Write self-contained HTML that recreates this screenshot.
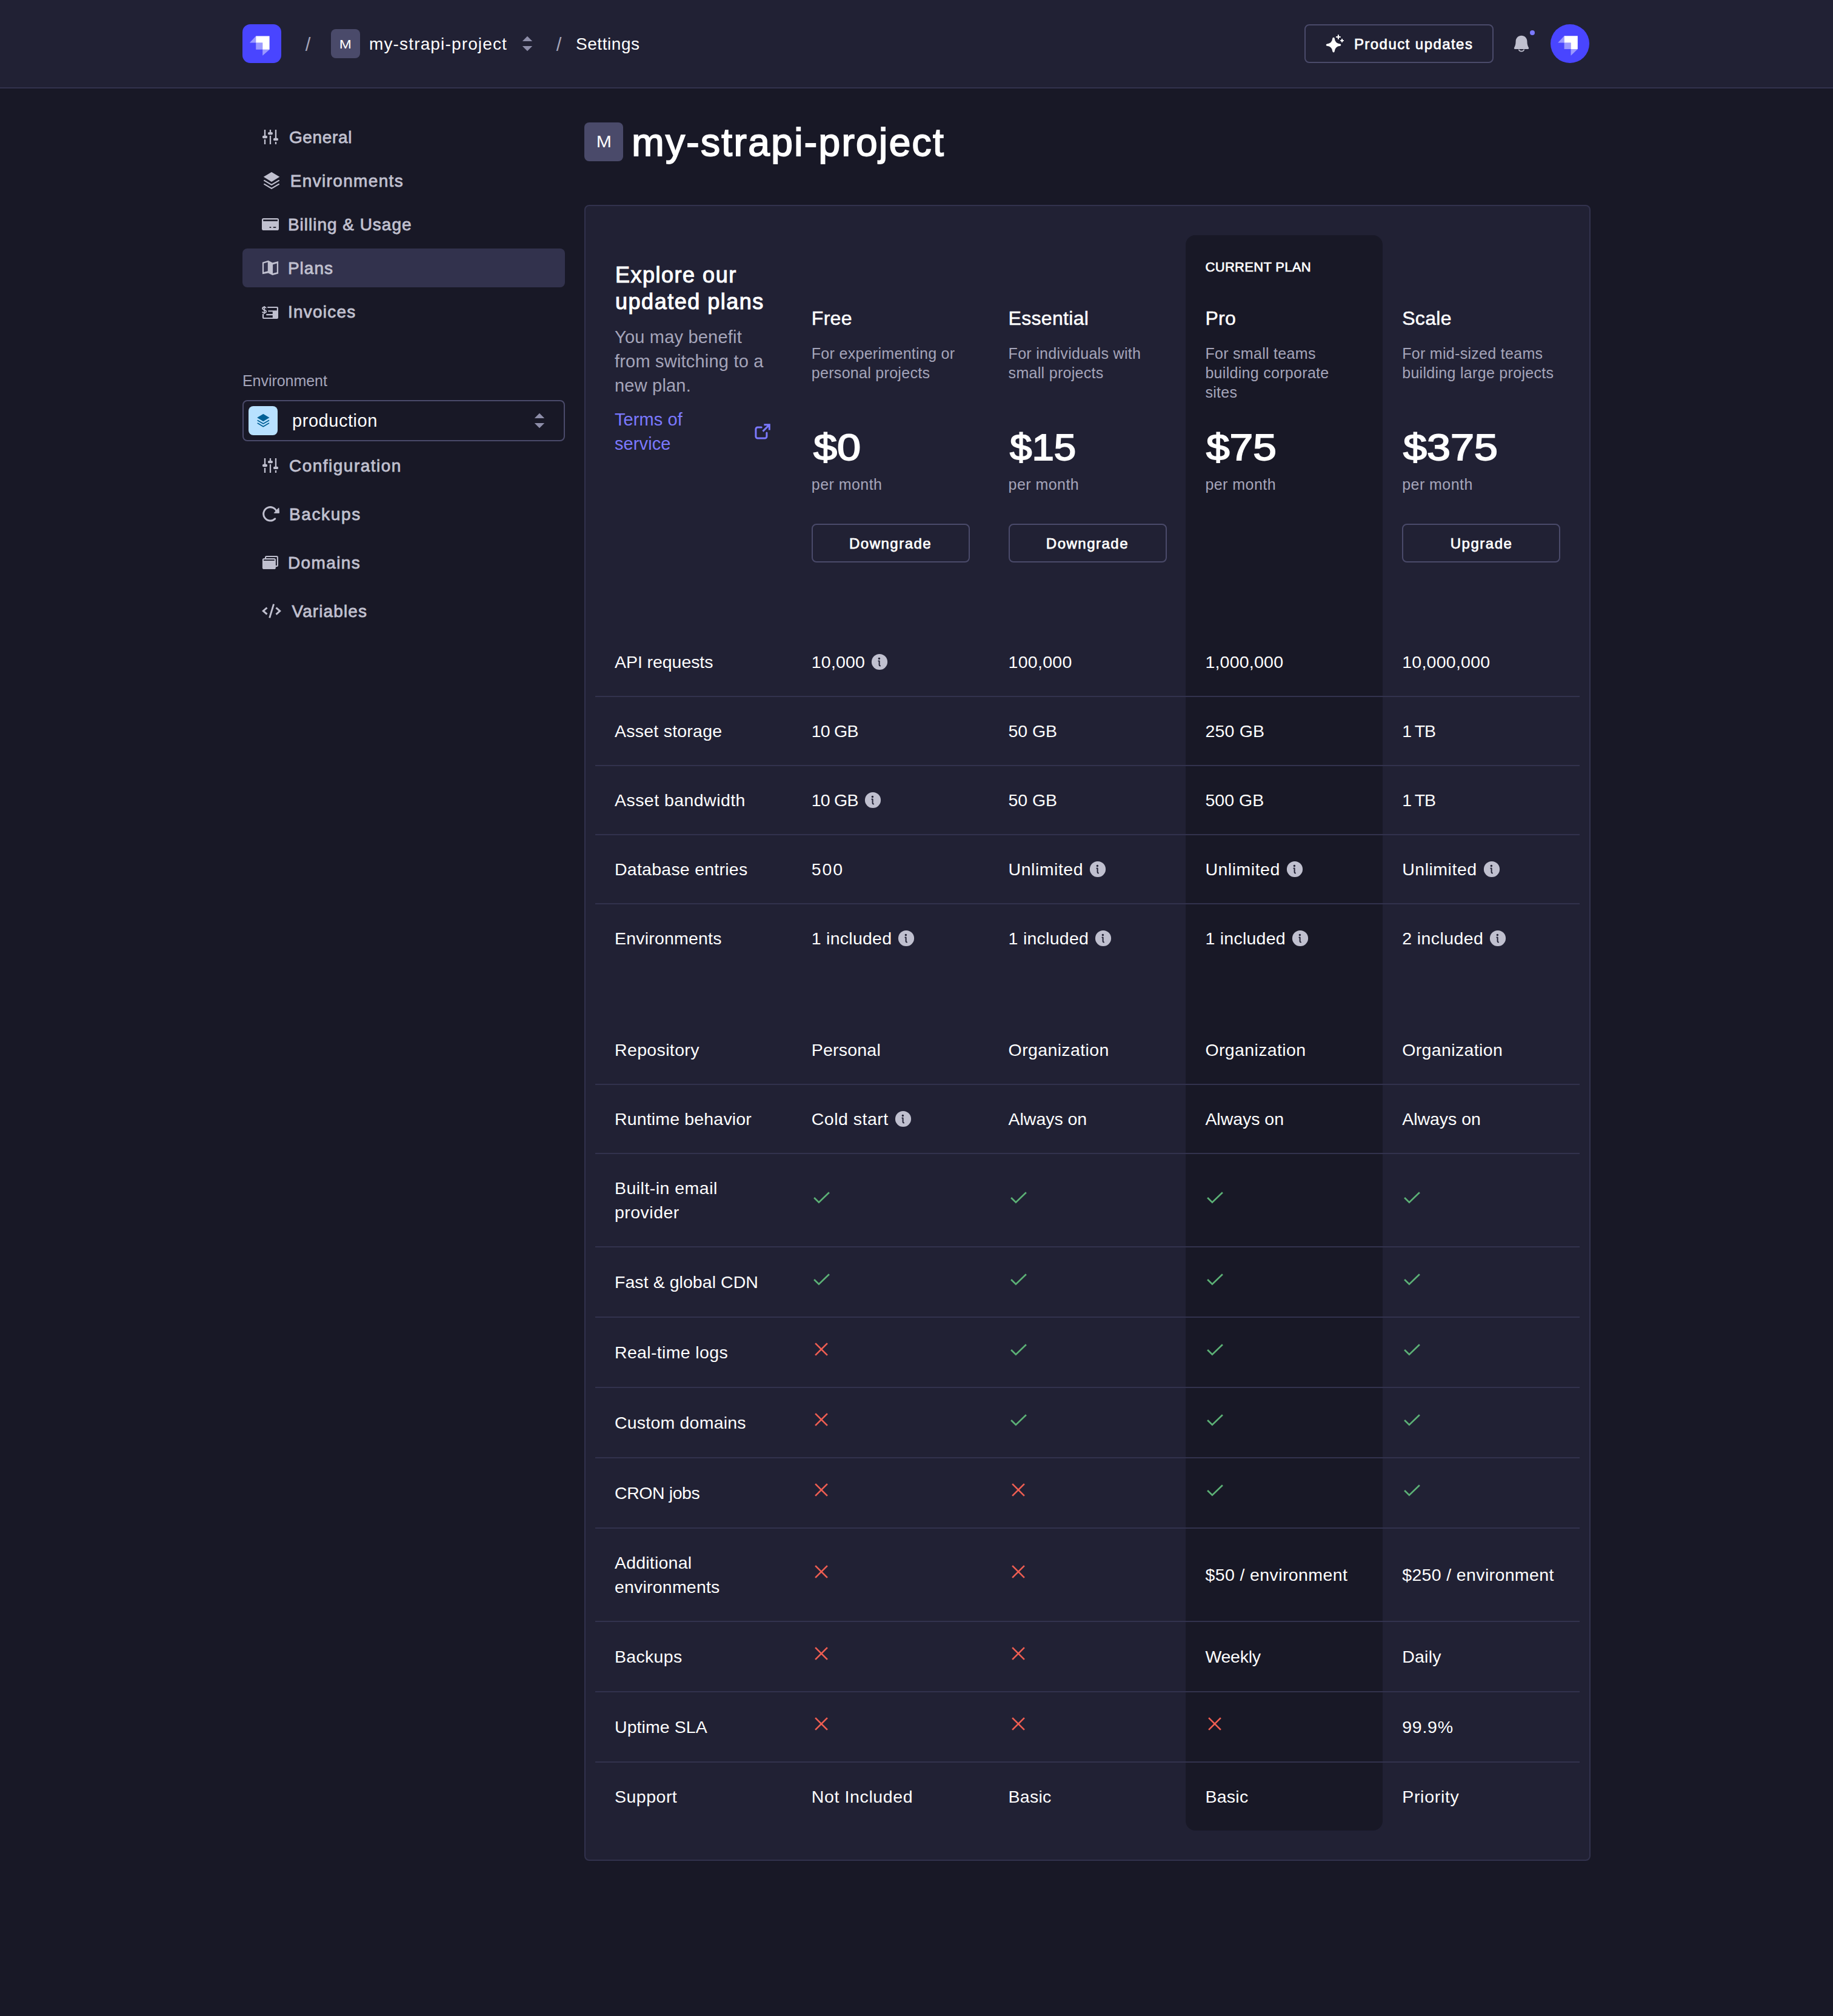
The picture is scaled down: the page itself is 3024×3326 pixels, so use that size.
<!DOCTYPE html>
<html lang="en"><head><meta charset="utf-8"><title>Plans - my-strapi-project</title>
<style>
*{box-sizing:border-box;margin:0;padding:0}
html,body{width:3024px;height:3326px}
body{background:#181826;font-family:"Liberation Sans",sans-serif;color:#fff;position:relative;overflow:hidden;-webkit-font-smoothing:antialiased}
#hdr{position:absolute;left:0;top:0;width:3024px;height:146px;background:#212134;border-bottom:2px solid #32324d}
#hdr>*{position:absolute}
.logo{left:400px;top:40px;width:64px;height:64px;border-radius:13px;background:#4945ff;overflow:hidden}
.sl{font-size:31px;line-height:40px;top:54px;color:#a5a5ba;width:20px;text-align:center}
.mb{background:#4a4a6a;color:#fff;text-align:center}
.ht{font-size:28px;line-height:40px;top:53.4px;white-space:nowrap}
.pu{left:2152px;top:40px;width:312px;height:64px;border:2px solid #4a4a6a;border-radius:8px}
.pu span{position:absolute;left:81px;top:11px;font-size:24px;line-height:40px;-webkit-text-stroke:.75px #fff;white-space:nowrap}
.av{left:2558px;top:40px;width:64px;height:64px;border-radius:50%;background:#4945ff;overflow:hidden}
.it{position:absolute;left:400px;width:532px;height:64px;border-radius:8px;color:#c0c0cf}
.it.act{background:#32324d}
.it .ic{position:absolute}
.it span{position:absolute;top:13px;font-size:28px;line-height:40px;-webkit-text-stroke:.8px #c0c0cf;white-space:nowrap}
.lbl{position:absolute;left:400px;top:612px;font-size:25px;line-height:32px;color:#a5a5ba;letter-spacing:-.05px}
.sel{position:absolute;left:400px;top:660px;width:532px;height:68px;border:2px solid #4a4a6a;border-radius:8px}
.sel .bx{position:absolute;left:8px;top:8px;width:48px;height:48px;border-radius:8px;background:#b8e1ff}
.sel .tx{position:absolute;left:80px;top:12px;font-size:29px;line-height:40px;letter-spacing:.55px}
.sel .cv{position:absolute;left:479px;top:19px}
#title{position:absolute;left:964px;top:194px;height:80px}
#title .mb{position:absolute;left:0;top:8px;width:64px;height:64px;border-radius:8px;font-size:27px;line-height:65px}
#title h1{position:absolute;left:77.5px;top:1px;font-size:64px;line-height:80px;font-weight:400;-webkit-text-stroke:1.9px #fff;white-space:nowrap}
#card{position:absolute;left:964px;top:338px;width:1660px;height:2732px;border:2px solid #32324d;border-radius:8px;background:#212134}
#tbl{position:absolute;left:16px;top:48px;width:1624px;height:2632px}
#hl{position:absolute;left:974.4px;top:0;width:324.8px;height:2632px;background:#181826;border-radius:16px}
#ph{position:relative;height:648px}
#ph>div{position:absolute;top:0;height:648px;width:324.8px}
.r{position:relative;display:flex;border-bottom:2px solid #32324d}
.r.nb{border-bottom:0}
.c{width:324.8px;padding-left:32px;display:flex;align-items:center;font-size:28.5px;line-height:40px;white-space:nowrap}
.info{margin-left:8px;flex:none}
.ck{flex:none;margin-bottom:10px}
.ex h2{position:absolute;left:32px;top:43.5px;font-size:36px;line-height:44px;font-weight:400;-webkit-text-stroke:1.1px #fff;white-space:nowrap}
.ex p{position:absolute;left:32px;top:148px;font-size:29px;line-height:40px;color:#a5a5ba;white-space:nowrap;letter-spacing:.2px}
.ex a{position:absolute;left:32px;top:284px;font-size:29px;line-height:40px;color:#7b79ff;white-space:nowrap;letter-spacing:.1px;text-decoration:none}
.ex .ext{position:absolute;left:260px;top:308px}
.pc>div{position:absolute;left:32px;white-space:nowrap}
.cur{top:37px;font-size:22px;line-height:32px;-webkit-text-stroke:.7px #fff}
.pn{top:112.6px;font-size:32px;line-height:48px;-webkit-text-stroke:.5px #fff;letter-spacing:.3px}
.pd{top:178.5px;font-size:25px;line-height:32px;color:#a5a5ba;letter-spacing:.3px}
.pp{top:309.5px;font-size:62px;line-height:80px;-webkit-text-stroke:1.9px #fff}
.pm{top:394.8px;font-size:25px;line-height:32px;color:#a5a5ba;letter-spacing:.45px}
.pb{top:476px;width:261px;height:64px;border:2px solid #4a4a6a;border-radius:8px;font-size:24px;line-height:62px;-webkit-text-stroke:.75px #fff;text-align:center}
</style></head>
<body>
<div id="hdr">
  <div class="logo"><svg width="64" height="64" viewBox="0 0 64 64"><path d="M22.2 19.4H44.6V41.8H33.2V30.6H22.2Z" fill="#fff"/><path d="M22.2 19.4V30.6H11.9ZM22.2 30.6H33.2V41.8H22.2ZM33.2 41.8H44.6L33.2 51.8Z" fill="#fff" fill-opacity=".45"/></svg></div>
  <div class="sl" style="left:498px">/</div>
  <div class="mb" style="left:546px;top:48px;width:48px;height:48px;border-radius:8px;font-size:21px;line-height:49px"><span style="display:inline-block;transform:scaleX(1.15)">M</span></div>
  <div class="ht" style="left:609px;letter-spacing:1.15px">my-strapi-project</div>
  <div style="left:861px;top:59px"><svg width="18" height="26" viewBox="0 0 18 26"><path d="M9 0.8L17.2 9H0.8ZM0.8 17H17.2L9 25.2Z" fill="#8e8ea9"/></svg></div>
  <div class="sl" style="left:912px">/</div>
  <div class="ht" style="left:950px;letter-spacing:.55px">Settings</div>
  <div class="pu"><svg style="position:absolute;left:30px;top:12px" width="36" height="36" viewBox="0 0 36 36"><g fill="#fff" stroke="#fff" stroke-linejoin="round"><path stroke-width="3.4" d="M16 9.5Q16.9 19.2 26.6 20.1Q16.9 21 16 30.7Q15.1 21 5.4 20.1Q15.1 19.2 16 9.5Z"/></g><path d="M23.9 3.2V10.8M20.1 7H27.7M30 10.1V15.7M27.2 12.9H32.8" stroke="#fff" stroke-width="2" fill="none"/></svg><span style="margin-left:-1.08px;letter-spacing:1.442px">Product updates</span></div>
  <svg style="left:2494px;top:56px" width="32" height="32" viewBox="0 0 32 32"><path d="M16 2.8C10.6 2.8 6.6 7 6.6 12.3C6.6 17.5 5.4 20.3 4 22.7C3.4 23.8 4.2 25 5.4 25H26.6C27.8 25 28.6 23.8 28 22.7C26.6 20.3 25.4 17.5 25.4 12.3C25.4 7 21.4 2.8 16 2.8Z" fill="#c0c0cf"/><path d="M11.6 25.6A4.5 3.8 0 0 0 20.4 25.6" fill="none" stroke="#c0c0cf" stroke-width="1.8"/></svg>
  <div style="left:2524px;top:50px;width:8px;height:8px;border-radius:50%;background:#7b79ff"></div>
  <div class="av"><svg width="64" height="64" viewBox="0 0 64 64"><path d="M22.6 19.3H44.8V41.1H33.5V30.4H22.6Z" fill="#fff"/><path d="M22.6 19.3V30.4H12.1ZM22.6 30.4H33.5V41.1H22.6ZM33.5 41.1H44.8L33.5 51.8Z" fill="#fff" fill-opacity=".45"/></svg></div>
</div>

<div class="it" style="top:194px"><svg class="ic" style="left:32px;top:18px" width="28" height="28" viewBox="0 0 28 28"><g stroke="#c0c0cf" stroke-width="2.3" fill="none"><path d="M5 2V12.5M5 18V26M14 2V6.5M14 12.1V26M23 2V16.3M23 22.1V26"/></g><g fill="#c0c0cf"><rect x="0.9" y="11.8" width="8.2" height="4.4" rx="2.2"/><rect x="9.9" y="5.9" width="8.2" height="4.4" rx="2.2"/><rect x="18.9" y="15.7" width="8.2" height="4.4" rx="2.2"/></g></svg><span style="left:76px;margin-left:0.90px;letter-spacing:0.660px">General</span></div>
<div class="it" style="top:266px"><svg class="ic" style="left:32px;top:18px" width="32" height="28" viewBox="0 0 32 28"><path d="M16 -0.1L29.3 7.8L16 15.9L2.8 7.8Z" fill="#c0c0cf"/><path d="M4.2 13.9L16 20.9L27.9 13.9M4.2 19.9L16 26.9L27.9 19.9" fill="none" stroke="#c0c0cf" stroke-width="2.2" stroke-linecap="round" stroke-linejoin="round"/></svg><span style="left:80px;margin-left:-1.26px;letter-spacing:1.339px">Environments</span></div>
<div class="it" style="top:338px"><svg class="ic" style="left:32px;top:18px" width="28" height="28" viewBox="0 0 28 28"><rect x="0" y="3.9" width="28" height="20.2" rx="2.8" fill="#c0c0cf"/><rect x="2.2" y="6.3" width="23.8" height="2.6" fill="#181826"/><rect x="12.4" y="18.2" width="3.2" height="1.7" rx=".8" fill="#181826"/><rect x="18.5" y="18.2" width="5.1" height="1.7" rx=".8" fill="#181826"/></svg><span style="left:76px;margin-left:-1.08px;letter-spacing:0.979px">Billing &amp; Usage</span></div>
<div class="it act" style="top:410px"><svg class="ic" style="left:32px;top:18px" width="28" height="28" viewBox="0 0 28 28"><path transform="translate(0,-2)" fill="#c0c0cf" fill-rule="evenodd" d="M0.9 6.7L10.6 3.7L17.6 7.4L27.1 4.9V25.4L17.5 28.1L10.5 24.4L0.9 26.2Z M3.1 8.6L9.8 6.5V21.2L3.1 23Z M18.1 10.4L24.8 8.6V23.3L18.1 25Z"/></svg><span style="left:76px;margin-left:-1.08px;letter-spacing:0.996px">Plans</span></div>
<div class="it" style="top:482px"><svg class="ic" style="left:32px;top:18px" width="28" height="28" viewBox="0 0 28 28"><g fill="#c0c0cf"><path d="M9.3 5.9H25a2 2 0 0 1 2 2V24a2 2 0 0 1-2 2H2.9a2 2 0 0 1-2-2V18H3.1V23.9H17.8V20.2H7.3V18H17.8V14.3H10.3V12.15H24.8V8.06H9.3Z"/></g><path d="M7 8.4C6.6 7.1 5.4 6.6 4 6.6C2.3 6.6 1 7.5 1 9C1 12 7.1 10.6 7.1 13.8C7.1 15.4 5.7 16.2 4 16.2C2.4 16.2 1.1 15.6 0.7 14.2M4 5V17.9" fill="none" stroke="#c0c0cf" stroke-width="1.8"/></svg><span style="left:76px;margin-left:-1.08px;letter-spacing:1.238px">Invoices</span></div>
<div class="lbl">Environment</div>
<div class="sel"><div class="bx"><svg style="position:absolute;left:11.7px;top:13.2px" width="24.6" height="21.5" viewBox="0 0 32 28"><path d="M16 -0.1L29.3 7.8L16 15.9L2.8 7.8Z" fill="#006096"/><path d="M4.2 13.9L16 20.9L27.9 13.9M4.2 19.9L16 26.9L27.9 19.9" fill="none" stroke="#006096" stroke-width="2.2" stroke-linecap="round" stroke-linejoin="round"/></svg></div><div class="tx">production</div><div class="cv"><svg width="18" height="26" viewBox="0 0 18 26"><path d="M9 0.8L17.2 9H0.8ZM0.8 17H17.2L9 25.2Z" fill="#8e8ea9"/></svg></div></div>
<div class="it" style="top:736px"><svg class="ic" style="left:32px;top:18px" width="28" height="28" viewBox="0 0 28 28"><g stroke="#c0c0cf" stroke-width="2.3" fill="none"><path d="M5 2V12.5M5 18V26M14 2V6.5M14 12.1V26M23 2V16.3M23 22.1V26"/></g><g fill="#c0c0cf"><rect x="0.9" y="11.8" width="8.2" height="4.4" rx="2.2"/><rect x="9.9" y="5.9" width="8.2" height="4.4" rx="2.2"/><rect x="18.9" y="15.7" width="8.2" height="4.4" rx="2.2"/></g></svg><span style="left:76px;margin-left:1.08px;letter-spacing:1.470px">Configuration</span></div>
<div class="it" style="top:816px"><svg class="ic" style="left:32px;top:18px" width="30" height="28" viewBox="0 0 30 28"><path d="M24.4 10A11.2 11.2 0 1 0 21.7 21.9" fill="none" stroke="#c0c0cf" stroke-width="3" stroke-linecap="round"/><path d="M27.9 3.9L28.5 12.3H20.3Z" fill="#c0c0cf" stroke="#c0c0cf" stroke-width="1" stroke-linejoin="round"/></svg><span style="left:78px;margin-left:-1.08px;letter-spacing:1.650px">Backups</span></div>
<div class="it" style="top:896px"><svg class="ic" style="left:32px;top:18px" width="28" height="28" viewBox="0 0 28 28"><rect x="6.05" y="4.05" width="19.85" height="16.05" rx="1.6" fill="none" stroke="#c0c0cf" stroke-width="2.1"/><rect x="0.9" y="6.9" width="22" height="18.2" rx="2.7" fill="#c0c0cf"/><rect x="3.05" y="9.2" width="17.7" height="1.8" fill="#181826"/></svg><span style="left:76px;margin-left:-1.08px;letter-spacing:1.380px">Domains</span></div>
<div class="it" style="top:976px"><svg class="ic" style="left:32px;top:18px" width="32" height="28" viewBox="0 0 32 28"><g fill="none" stroke="#c0c0cf" stroke-width="3"><path d="M8.5 8.6L2.3 13.9L8.5 19.3M23.5 8.6L29.7 14.1L23.5 19.6"/><path d="M19.6 2.6L12.7 25.3" stroke-width="2.9"/></g></svg><span style="left:80px;margin-left:1.44px;letter-spacing:1.105px">Variables</span></div>

<div id="title"><div class="mb"><span style="display:inline-block;transform:scaleX(1.12)">M</span></div><h1 style="margin-left:0.72px;letter-spacing:2.376px">my-strapi-project</h1></div>

<div id="card"><div id="tbl">
<div id="hl"></div>
<div id="ph">
  <div class="ex" style="left:0"><h2 style="margin-left:1.08px;letter-spacing:1.496px">Explore our<br>updated plans</h2><p>You may benefit<br>from switching to a<br>new plan.</p><a>Terms of<br>service</a><svg class="ext" width="32" height="32" viewBox="0 0 32 32"><g fill="none" stroke="#7b79ff" stroke-width="3" stroke-linecap="round" stroke-linejoin="round"><path d="M14.2 8.9H7.9a3 3 0 0 0-3 3V24a3 3 0 0 0 3 3H19.9a3 3 0 0 0 3-3V18.1"/><path d="M18.4 4.8H27.3V13.6M27.3 4.8L16.5 15.6" stroke-linecap="butt" stroke-linejoin="miter"/></g></svg></div>
  <div class="pc" style="left:324.8px"><div class="pn">Free</div><div class="pd">For experimenting or<br>personal projects</div><div class="pp" style="margin-left:3.42px;transform-origin:0 50%;transform:scaleX(1.1329)">$0</div><div class="pm">per month</div><div class="pb"><span style="margin-left:-0.36px;letter-spacing:1.488px">Downgrade</span></div></div>
  <div class="pc" style="left:649.6px"><div class="pn">Essential</div><div class="pd">For individuals with<br>small projects</div><div class="pp" style="margin-left:2.70px;transform-origin:0 50%;transform:scaleX(1.0565)">$15</div><div class="pm">per month</div><div class="pb"><span style="margin-left:-0.36px;letter-spacing:1.488px">Downgrade</span></div></div>
  <div class="pc" style="left:974.4000000000001px"><div class="cur" style="margin-left:0.18px;letter-spacing:0.298px">CURRENT PLAN</div><div class="pn">Pro</div><div class="pd">For small teams<br>building corporate<br>sites</div><div class="pp" style="margin-left:1.62px;transform-origin:0 50%;transform:scaleX(1.1198)">$75</div><div class="pm">per month</div></div>
  <div class="pc" style="left:1299.2px"><div class="pn">Scale</div><div class="pd">For mid-sized teams<br>building large projects</div><div class="pp" style="margin-left:1.80px;transform-origin:0 50%;transform:scaleX(1.1310)">$375</div><div class="pm">per month</div><div class="pb"><span style="margin-left:0.72px;letter-spacing:1.500px">Upgrade</span></div></div>
</div>
<div class="r " style="height:114px"><div class="c"><span style="letter-spacing:-0.065px">API requests</span></div><div class="c"><span style="letter-spacing:0.198px">10,000</span><svg class="info" width="32" height="32" viewBox="0 0 32 32"><circle cx="16" cy="16" r="13.1" fill="#c0c0cf"/><circle cx="15.4" cy="10.5" r="1.7" fill="#212134"/><path d="M14.4 14.6H15.6V21A1.4 1.4 0 0 0 17 22.4" fill="none" stroke="#212134" stroke-width="2" stroke-linecap="round" stroke-linejoin="round"/></svg></div><div class="c"><span style="letter-spacing:0.270px">100,000</span></div><div class="c"><span style="letter-spacing:0.225px">1,000,000</span></div><div class="c"><span style="letter-spacing:0.260px">10,000,000</span></div></div>
<div class="r " style="height:114px"><div class="c"><span style="letter-spacing:0.240px">Asset storage</span></div><div class="c"><span style="letter-spacing:-0.788px">10 GB</span></div><div class="c"><span style="letter-spacing:-0.112px">50 GB</span></div><div class="c"><span style="letter-spacing:0.198px">250 GB</span></div><div class="c"><span style="letter-spacing:-1.290px">1 TB</span></div></div>
<div class="r " style="height:114px"><div class="c"><span style="letter-spacing:0.450px">Asset bandwidth</span></div><div class="c"><span style="letter-spacing:-0.788px">10 GB</span><svg class="info" width="32" height="32" viewBox="0 0 32 32"><circle cx="16" cy="16" r="13.1" fill="#c0c0cf"/><circle cx="15.4" cy="10.5" r="1.7" fill="#212134"/><path d="M14.4 14.6H15.6V21A1.4 1.4 0 0 0 17 22.4" fill="none" stroke="#212134" stroke-width="2" stroke-linecap="round" stroke-linejoin="round"/></svg></div><div class="c"><span style="letter-spacing:-0.112px">50 GB</span></div><div class="c"><span style="letter-spacing:0.036px">500 GB</span></div><div class="c"><span style="letter-spacing:-1.290px">1 TB</span></div></div>
<div class="r " style="height:114px"><div class="c"><span style="letter-spacing:0.246px">Database entries</span></div><div class="c"><span style="letter-spacing:1.845px">500</span></div><div class="c"><span style="letter-spacing:0.519px">Unlimited</span><svg class="info" width="32" height="32" viewBox="0 0 32 32"><circle cx="16" cy="16" r="13.1" fill="#c0c0cf"/><circle cx="15.4" cy="10.5" r="1.7" fill="#212134"/><path d="M14.4 14.6H15.6V21A1.4 1.4 0 0 0 17 22.4" fill="none" stroke="#212134" stroke-width="2" stroke-linecap="round" stroke-linejoin="round"/></svg></div><div class="c"><span style="letter-spacing:0.519px">Unlimited</span><svg class="info" width="32" height="32" viewBox="0 0 32 32"><circle cx="16" cy="16" r="13.1" fill="#c0c0cf"/><circle cx="15.4" cy="10.5" r="1.7" fill="#212134"/><path d="M14.4 14.6H15.6V21A1.4 1.4 0 0 0 17 22.4" fill="none" stroke="#212134" stroke-width="2" stroke-linecap="round" stroke-linejoin="round"/></svg></div><div class="c"><span style="letter-spacing:0.519px">Unlimited</span><svg class="info" width="32" height="32" viewBox="0 0 32 32"><circle cx="16" cy="16" r="13.1" fill="#c0c0cf"/><circle cx="15.4" cy="10.5" r="1.7" fill="#212134"/><path d="M14.4 14.6H15.6V21A1.4 1.4 0 0 0 17 22.4" fill="none" stroke="#212134" stroke-width="2" stroke-linecap="round" stroke-linejoin="round"/></svg></div></div>
<div class="r nb " style="height:112px"><div class="c"><span style="letter-spacing:0.205px">Environments</span></div><div class="c"><span style="letter-spacing:0.260px">1 included</span><svg class="info" width="32" height="32" viewBox="0 0 32 32"><circle cx="16" cy="16" r="13.1" fill="#c0c0cf"/><circle cx="15.4" cy="10.5" r="1.7" fill="#212134"/><path d="M14.4 14.6H15.6V21A1.4 1.4 0 0 0 17 22.4" fill="none" stroke="#212134" stroke-width="2" stroke-linecap="round" stroke-linejoin="round"/></svg></div><div class="c"><span style="letter-spacing:0.260px">1 included</span><svg class="info" width="32" height="32" viewBox="0 0 32 32"><circle cx="16" cy="16" r="13.1" fill="#c0c0cf"/><circle cx="15.4" cy="10.5" r="1.7" fill="#212134"/><path d="M14.4 14.6H15.6V21A1.4 1.4 0 0 0 17 22.4" fill="none" stroke="#212134" stroke-width="2" stroke-linecap="round" stroke-linejoin="round"/></svg></div><div class="c"><span style="letter-spacing:0.260px">1 included</span><svg class="info" width="32" height="32" viewBox="0 0 32 32"><circle cx="16" cy="16" r="13.1" fill="#c0c0cf"/><circle cx="15.4" cy="10.5" r="1.7" fill="#212134"/><path d="M14.4 14.6H15.6V21A1.4 1.4 0 0 0 17 22.4" fill="none" stroke="#212134" stroke-width="2" stroke-linecap="round" stroke-linejoin="round"/></svg></div><div class="c"><span style="letter-spacing:0.420px">2 included</span><svg class="info" width="32" height="32" viewBox="0 0 32 32"><circle cx="16" cy="16" r="13.1" fill="#c0c0cf"/><circle cx="15.4" cy="10.5" r="1.7" fill="#212134"/><path d="M14.4 14.6H15.6V21A1.4 1.4 0 0 0 17 22.4" fill="none" stroke="#212134" stroke-width="2" stroke-linecap="round" stroke-linejoin="round"/></svg></div></div>
<div style="height:72px"></div>
<div class="r " style="height:114px"><div class="c"><span style="letter-spacing:0.360px">Repository</span></div><div class="c"><span style="letter-spacing:0.206px">Personal</span></div><div class="c"><span style="letter-spacing:0.368px">Organization</span></div><div class="c"><span style="letter-spacing:0.368px">Organization</span></div><div class="c"><span style="letter-spacing:0.368px">Organization</span></div></div>
<div class="r " style="height:114px"><div class="c"><span style="letter-spacing:0.162px">Runtime behavior</span></div><div class="c"><span style="letter-spacing:0.490px">Cold start</span><svg class="info" width="32" height="32" viewBox="0 0 32 32"><circle cx="16" cy="16" r="13.1" fill="#c0c0cf"/><circle cx="15.4" cy="10.5" r="1.7" fill="#212134"/><path d="M14.4 14.6H15.6V21A1.4 1.4 0 0 0 17 22.4" fill="none" stroke="#212134" stroke-width="2" stroke-linecap="round" stroke-linejoin="round"/></svg></div><div class="c"><span style="letter-spacing:-0.033px">Always on</span></div><div class="c"><span style="letter-spacing:-0.033px">Always on</span></div><div class="c"><span style="letter-spacing:-0.033px">Always on</span></div></div>
<div class="r " style="height:154px"><div class="c"><span style="letter-spacing:0.472px">Built-in email<br>provider</span></div><div class="c"><svg class="ck" width="32" height="32" viewBox="0 0 32 32"><path d="M4.1 17.0L11.9 24.6L28.9 8.2" fill="none" stroke="#5cb176" stroke-width="2.7"/></svg></div><div class="c"><svg class="ck" width="32" height="32" viewBox="0 0 32 32"><path d="M4.1 17.0L11.9 24.6L28.9 8.2" fill="none" stroke="#5cb176" stroke-width="2.7"/></svg></div><div class="c"><svg class="ck" width="32" height="32" viewBox="0 0 32 32"><path d="M4.1 17.0L11.9 24.6L28.9 8.2" fill="none" stroke="#5cb176" stroke-width="2.7"/></svg></div><div class="c"><svg class="ck" width="32" height="32" viewBox="0 0 32 32"><path d="M4.1 17.0L11.9 24.6L28.9 8.2" fill="none" stroke="#5cb176" stroke-width="2.7"/></svg></div></div>
<div class="r " style="height:116px"><div class="c"><span style="letter-spacing:0.056px">Fast &amp; global CDN</span></div><div class="c"><svg class="ck" width="32" height="32" viewBox="0 0 32 32"><path d="M4.1 17.0L11.9 24.6L28.9 8.2" fill="none" stroke="#5cb176" stroke-width="2.7"/></svg></div><div class="c"><svg class="ck" width="32" height="32" viewBox="0 0 32 32"><path d="M4.1 17.0L11.9 24.6L28.9 8.2" fill="none" stroke="#5cb176" stroke-width="2.7"/></svg></div><div class="c"><svg class="ck" width="32" height="32" viewBox="0 0 32 32"><path d="M4.1 17.0L11.9 24.6L28.9 8.2" fill="none" stroke="#5cb176" stroke-width="2.7"/></svg></div><div class="c"><svg class="ck" width="32" height="32" viewBox="0 0 32 32"><path d="M4.1 17.0L11.9 24.6L28.9 8.2" fill="none" stroke="#5cb176" stroke-width="2.7"/></svg></div></div>
<div class="r " style="height:116px"><div class="c"><span style="letter-spacing:0.346px">Real-time logs</span></div><div class="c"><svg class="ck" width="32" height="32" viewBox="0 0 32 32"><path d="M6.1 6.1L25.9 25.9M25.9 6.1L6.1 25.9" fill="none" stroke="#ee5e52" stroke-width="2.7"/></svg></div><div class="c"><svg class="ck" width="32" height="32" viewBox="0 0 32 32"><path d="M4.1 17.0L11.9 24.6L28.9 8.2" fill="none" stroke="#5cb176" stroke-width="2.7"/></svg></div><div class="c"><svg class="ck" width="32" height="32" viewBox="0 0 32 32"><path d="M4.1 17.0L11.9 24.6L28.9 8.2" fill="none" stroke="#5cb176" stroke-width="2.7"/></svg></div><div class="c"><svg class="ck" width="32" height="32" viewBox="0 0 32 32"><path d="M4.1 17.0L11.9 24.6L28.9 8.2" fill="none" stroke="#5cb176" stroke-width="2.7"/></svg></div></div>
<div class="r " style="height:116px"><div class="c"><span style="letter-spacing:0.208px">Custom domains</span></div><div class="c"><svg class="ck" width="32" height="32" viewBox="0 0 32 32"><path d="M6.1 6.1L25.9 25.9M25.9 6.1L6.1 25.9" fill="none" stroke="#ee5e52" stroke-width="2.7"/></svg></div><div class="c"><svg class="ck" width="32" height="32" viewBox="0 0 32 32"><path d="M4.1 17.0L11.9 24.6L28.9 8.2" fill="none" stroke="#5cb176" stroke-width="2.7"/></svg></div><div class="c"><svg class="ck" width="32" height="32" viewBox="0 0 32 32"><path d="M4.1 17.0L11.9 24.6L28.9 8.2" fill="none" stroke="#5cb176" stroke-width="2.7"/></svg></div><div class="c"><svg class="ck" width="32" height="32" viewBox="0 0 32 32"><path d="M4.1 17.0L11.9 24.6L28.9 8.2" fill="none" stroke="#5cb176" stroke-width="2.7"/></svg></div></div>
<div class="r " style="height:116px"><div class="c"><span style="letter-spacing:-0.416px">CRON jobs</span></div><div class="c"><svg class="ck" width="32" height="32" viewBox="0 0 32 32"><path d="M6.1 6.1L25.9 25.9M25.9 6.1L6.1 25.9" fill="none" stroke="#ee5e52" stroke-width="2.7"/></svg></div><div class="c"><svg class="ck" width="32" height="32" viewBox="0 0 32 32"><path d="M6.1 6.1L25.9 25.9M25.9 6.1L6.1 25.9" fill="none" stroke="#ee5e52" stroke-width="2.7"/></svg></div><div class="c"><svg class="ck" width="32" height="32" viewBox="0 0 32 32"><path d="M4.1 17.0L11.9 24.6L28.9 8.2" fill="none" stroke="#5cb176" stroke-width="2.7"/></svg></div><div class="c"><svg class="ck" width="32" height="32" viewBox="0 0 32 32"><path d="M4.1 17.0L11.9 24.6L28.9 8.2" fill="none" stroke="#5cb176" stroke-width="2.7"/></svg></div></div>
<div class="r " style="height:154px"><div class="c"><span style="letter-spacing:0.205px">Additional<br>environments</span></div><div class="c"><svg class="ck" width="32" height="32" viewBox="0 0 32 32"><path d="M6.1 6.1L25.9 25.9M25.9 6.1L6.1 25.9" fill="none" stroke="#ee5e52" stroke-width="2.7"/></svg></div><div class="c"><svg class="ck" width="32" height="32" viewBox="0 0 32 32"><path d="M6.1 6.1L25.9 25.9M25.9 6.1L6.1 25.9" fill="none" stroke="#ee5e52" stroke-width="2.7"/></svg></div><div class="c"><span style="letter-spacing:0.394px">$50 / environment</span></div><div class="c"><span style="letter-spacing:0.360px">$250 / environment</span></div></div>
<div class="r " style="height:116px"><div class="c"><span style="letter-spacing:0.315px">Backups</span></div><div class="c"><svg class="ck" width="32" height="32" viewBox="0 0 32 32"><path d="M6.1 6.1L25.9 25.9M25.9 6.1L6.1 25.9" fill="none" stroke="#ee5e52" stroke-width="2.7"/></svg></div><div class="c"><svg class="ck" width="32" height="32" viewBox="0 0 32 32"><path d="M6.1 6.1L25.9 25.9M25.9 6.1L6.1 25.9" fill="none" stroke="#ee5e52" stroke-width="2.7"/></svg></div><div class="c"><span style="letter-spacing:-0.252px">Weekly</span></div><div class="c"><span style="letter-spacing:0.249px">Daily</span></div></div>
<div class="r " style="height:116px"><div class="c"><span style="letter-spacing:0.080px">Uptime SLA</span></div><div class="c"><svg class="ck" width="32" height="32" viewBox="0 0 32 32"><path d="M6.1 6.1L25.9 25.9M25.9 6.1L6.1 25.9" fill="none" stroke="#ee5e52" stroke-width="2.7"/></svg></div><div class="c"><svg class="ck" width="32" height="32" viewBox="0 0 32 32"><path d="M6.1 6.1L25.9 25.9M25.9 6.1L6.1 25.9" fill="none" stroke="#ee5e52" stroke-width="2.7"/></svg></div><div class="c"><svg class="ck" width="32" height="32" viewBox="0 0 32 32"><path d="M6.1 6.1L25.9 25.9M25.9 6.1L6.1 25.9" fill="none" stroke="#ee5e52" stroke-width="2.7"/></svg></div><div class="c"><span style="letter-spacing:0.765px">99.9%</span></div></div>
<div class="r nb " style="height:112px"><div class="c"><span style="letter-spacing:0.495px">Support</span></div><div class="c"><span style="letter-spacing:0.614px">Not Included</span></div><div class="c"><span style="letter-spacing:0.270px">Basic</span></div><div class="c"><span style="letter-spacing:0.270px">Basic</span></div><div class="c"><span style="letter-spacing:0.707px">Priority</span></div></div>
</div></div>
<script>(function(){var w=window.innerWidth;if(w&&w<2900){document.documentElement.style.zoom=(w/3024);}})();</script>
</body></html>
